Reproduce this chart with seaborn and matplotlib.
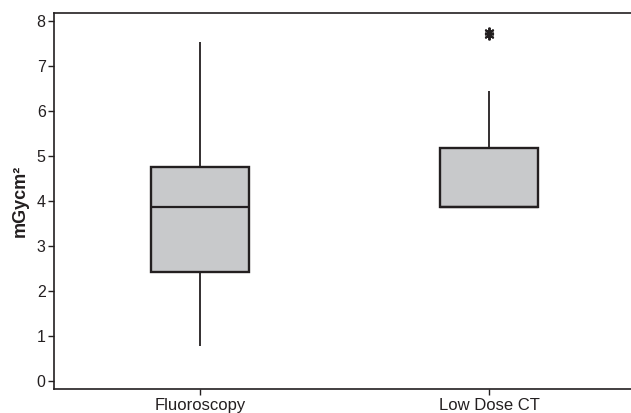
import seaborn as sns
import matplotlib.pyplot as plt
import pandas as pd

# values
fluoroscopy = [0.78, 2.42, 3.86, 4.75, 7.54]
low_dose_ct = [3.86, 3.86, 3.86, 3.86, 3.86, 3.86, 3.86, 4.5, 5.0, 5.17, 6.45, 7.70, 7.76]
categories = ['Fluoroscopy', 'Low Dose CT']
y_ticks = [0, 1, 2, 3, 4, 5, 6, 7, 8]

df = pd.DataFrame({
    'group': [categories[0]] * len(fluoroscopy) + [categories[1]] * len(low_dose_ct),
    'dose': fluoroscopy + low_dose_ct,
})

sns.set_theme(style='ticks')
plt.rcParams['font.family'] = ['Liberation Sans', 'DejaVu Sans']

edge = '#231f20'
fig = plt.figure(figsize=(6.31, 4.13), dpi=100)
ax = fig.add_axes([54 / 631, 1 - 389 / 413, 1 - 54 / 631, (389 - 13) / 413])

sns.boxplot(
    data=df, x='group', y='dose', order=categories, ax=ax,
    color='#c8c9cb', linecolor=edge, width=0.34, whis=1.5, showcaps=False,
    boxprops=dict(linewidth=1.7, edgecolor=edge),
    whiskerprops=dict(linewidth=1.3, color=edge),
    medianprops=dict(linewidth=1.6, color=edge),
    flierprops=dict(marker=(6, 2, 0), markersize=7, markeredgewidth=1.4,
                    markeredgecolor=edge, markerfacecolor=edge),
)

ax.set_xlim(-0.505, 1.49)
ax.set_ylim(-0.18, 8.18)
ax.set_yticks(y_ticks)
ax.set_xlabel('')
ax.set_ylabel('mGycm²', fontsize=13, fontweight='bold', color=edge, labelpad=6)

for side in ['left', 'bottom', 'top']:
    ax.spines[side].set_visible(True)
    ax.spines[side].set_linewidth(1.2)
    ax.spines[side].set_color(edge)
ax.spines['right'].set_visible(False)

ax.tick_params(axis='y', length=4, width=1, color=edge, labelsize=11.5, labelcolor=edge, pad=2)
ax.tick_params(axis='x', length=4, width=1, color=edge, labelsize=12, labelcolor=edge, pad=2.5)

fig.savefig('out.png', dpi=100)
